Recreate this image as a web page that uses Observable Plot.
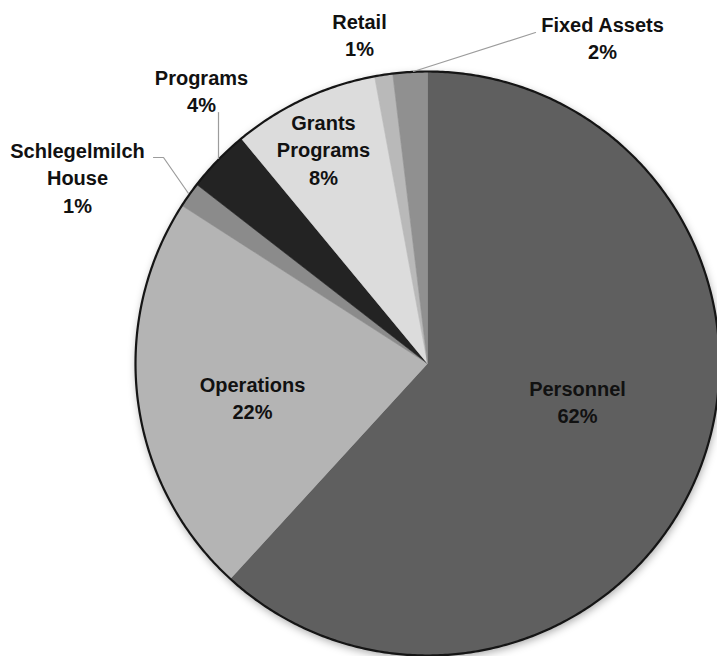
<!DOCTYPE html>
<html>
<head>
<meta charset="utf-8">
<script src="https://cdn.jsdelivr.net/npm/d3@7"></script>
<script src="https://cdn.jsdelivr.net/npm/@observablehq/plot@0.6"></script>
<style>
  html, body { margin: 0; padding: 0; background: #fff; }
  #chart { width: 717px; height: 656px; }
</style>
</head>
<body>
<div id="chart"></div>
<script>
// ---- data ----
const categories = ["Personnel", "Operations", "Schlegelmilch House", "Programs", "Grants Programs", "Retail", "Fixed Assets"];
const shares = [61.8, 22.3, 1.4, 3.5, 8.1, 1.0, 1.9];
const labelLines = [["Personnel"], ["Operations"], ["Schlegelmilch", "House"], ["Programs"], ["Grants", "Programs"], ["Retail"], ["Fixed Assets"]];
const colors = ["#5f5f5f", "#b4b4b4", "#8b8b8b", "#232323", "#dcdcdc", "#b9b9b9", "#909090"];

// ---- layout ----
const W = 717, H = 656;
const CX = 427, CY = 363, R = 292;
const FONT = 20, LINE = 27.5;
// label block top-line centres (pixels)
const labelAnchor = [[577, 389], [252, 385], [77, 151], [201, 78], [323, 123], [359, 22], [602, 25]];
// leader polylines (pixels)
const leaders = [
  {id: "Fixed Assets", pts: [[535, 32], [413, 71]]},
  {id: "Programs", pts: [[218, 112], [218, 158]]},
  {id: "Schlegelmilch House", pts: [[153, 157], [163, 157], [188, 193]]}
];

// ---- build slices ----
const total = d3.sum(shares);
const slicePts = [];
let acc = 0;
categories.forEach((c, i) => {
  const a0 = acc / total * 2 * Math.PI;
  acc += shares[i];
  const a1 = acc / total * 2 * Math.PI;
  slicePts.push({cat: c, x: CX, y: CY});
  const n = Math.max(2, Math.ceil((a1 - a0) / (Math.PI / 360)));
  for (let k = 0; k <= n; k++) {
    const a = a0 + (a1 - a0) * k / n;
    slicePts.push({cat: c, x: CX + R * Math.sin(a), y: CY - R * Math.cos(a)});
  }
  slicePts.push({cat: c, x: CX, y: CY});
});
const circle = d3.range(0, 721).map(k => {
  const a = k / 720 * 2 * Math.PI;
  return {x: CX + R * Math.sin(a), y: CY - R * Math.cos(a)};
});

const textRows = [];
categories.forEach((c, i) => {
  const lines = [...labelLines[i], Math.round(shares[i]) + "%"];
  lines.forEach((t, j) => textRows.push({t, x: labelAnchor[i][0], y: labelAnchor[i][1] + j * LINE}));
});
const leaderPts = leaders.flatMap(l => l.pts.map(p => ({id: l.id, x: p[0], y: p[1]})));

const chart = Plot.plot({
  width: W,
  height: H,
  margin: 0,
  x: {domain: [0, W], range: [0, W], axis: null},
  y: {domain: [0, H], range: [0, H], axis: null},
  color: {domain: categories, range: colors},
  style: {fontFamily: "'Liberation Sans', Arial, sans-serif", background: "#fff"},
  marks: [
    Plot.line(circle, {x: "x", y: "y", fill: "#fff", stroke: "none",
      imageFilter: "drop-shadow(1px 3px 4px rgba(0,0,0,0.35))"}),
    Plot.line(slicePts, {x: "x", y: "y", z: "cat", fill: "cat", stroke: "cat", strokeWidth: 0.6, curve: "linear"}),
    Plot.line(circle, {x: "x", y: "y", stroke: "#151515", strokeWidth: 2.2}),
    Plot.line(leaderPts, {x: "x", y: "y", z: "id", stroke: "#9c9c9c", strokeWidth: 1.2}),
    Plot.text(textRows, {x: "x", y: "y", text: "t", fontSize: FONT, fontWeight: "bold", fill: "#111"})
  ]
});
document.getElementById("chart").appendChild(chart);
</script>
</body>
</html>
